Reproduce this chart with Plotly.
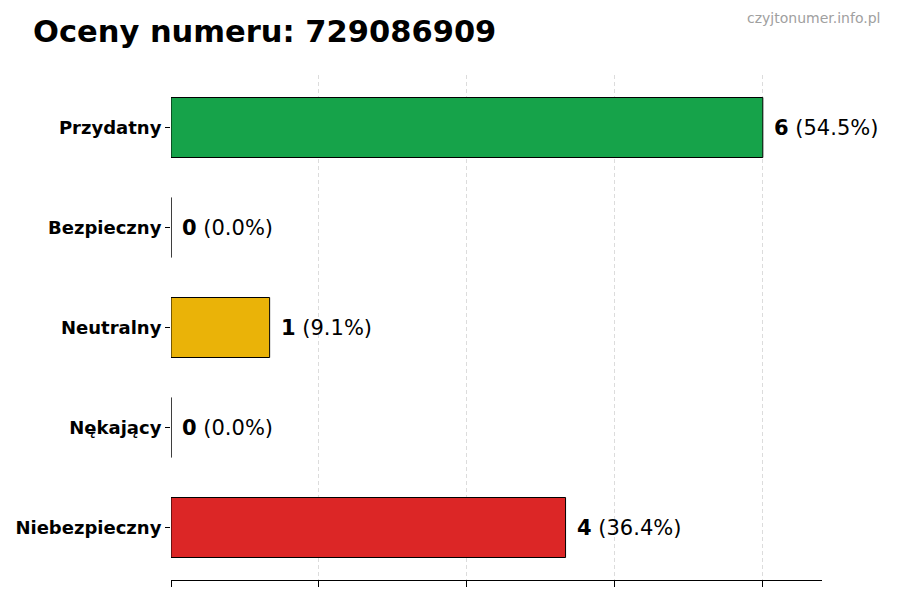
import plotly.graph_objects as go

# dane z wykresu
categories = ["Przydatny", "Bezpieczny", "Neutralny", "Nękający", "Niebezpieczny"]
counts = [6, 0, 1, 0, 4]
colors = ["#16a34a", "#6b7280", "#eab308", "#f97316", "#dc2626"]
x_ticks = [0, 1.5, 3, 4.5, 6]

total = sum(counts)
labels = [f"<b>{c}</b> ({c / total * 100:.1f}%)" for c in counts]

fig = go.Figure(
    go.Bar(
        x=counts,
        y=categories,
        orientation="h",
        width=0.6,
        marker=dict(color=colors, line=dict(color="black", width=1)),
        hoverinfo="skip",
    )
)

for cat, val, lab in zip(categories, counts, labels):
    fig.add_annotation(
        x=val, y=cat, text=lab, showarrow=False,
        xanchor="left", xshift=9,
        font=dict(size=21, color="black", family="DejaVu Sans"),
    )

fig.add_annotation(
    text="czyjtonumer.info.pl", xref="paper", yref="paper",
    x=1.092, y=1.112, xanchor="right", yanchor="middle", showarrow=False,
    font=dict(size=14, color="#a0a0a0", family="DejaVu Sans"),
)

# strona ma 8px marginesu, stad 892x592
fig.update_layout(
    width=892, height=592,
    title=dict(
        text="<b>Oceny numeru: 729086909</b>",
        x=0.028, xanchor="left", y=0.961, yanchor="middle",
        font=dict(size=30.5, color="black", family="DejaVu Sans"),
    ),
    margin=dict(l=163, r=78, t=67, b=20),
    plot_bgcolor="white", paper_bgcolor="white",
    showlegend=False,
    font=dict(family="DejaVu Sans", color="black"),
)

fig.update_xaxes(
    range=[0, 6.6], tickvals=x_ticks, showticklabels=False,
    ticks="outside", ticklen=6, tickcolor="black",
    showline=True, linecolor="black", linewidth=1,
    showgrid=True, gridcolor="#dcdcdc", griddash="4px,3px", gridwidth=1,
    zeroline=False, layer="above traces", automargin=False,
)
fig.update_yaxes(
    categoryorder="array", categoryarray=categories[::-1],
    range=[-0.525, 4.525],
    ticks="outside", ticklen=5, tickcolor="black",
    tickfont=dict(size=18, family="DejaVu Sans", color="black"),
    tickprefix="<b>", ticksuffix="</b>",
    showline=False, showgrid=False, zeroline=False, automargin=False,
)

fig.write_html("out.html")
